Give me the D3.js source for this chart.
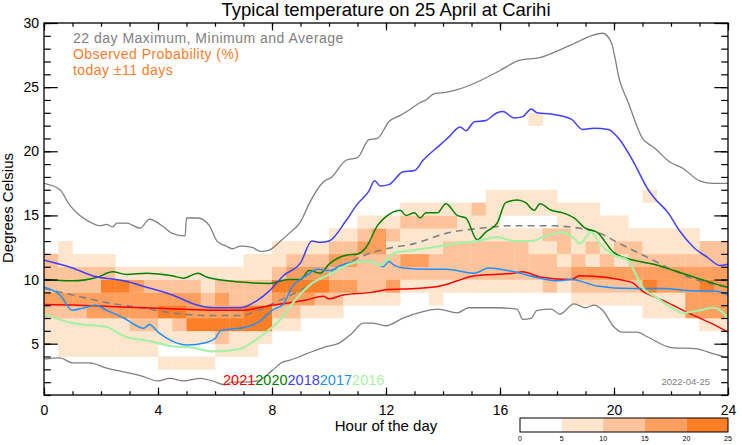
<!DOCTYPE html>
<html><head><meta charset="utf-8">
<script src="https://cdn.jsdelivr.net/npm/d3@7"></script>
<style>body{margin:0;background:#fff} svg{display:block;font-family:"Liberation Sans",Arial,Helvetica,sans-serif}</style>
</head><body><svg id="c" width="742" height="445"></svg>
<script>
// ---------------- data ----------------
const hourTicks = [0,4,8,12,16,20,24];
const tempTicks = [5,10,15,20,25,30];
const probBins = [0,5,10,15,20,25];
const years = ["2021","2020","2018","2017","2016"];
const yearColors = ["#ff0000","#008000","#4040ff","#1e90ff","#a8f0a8"];
// probability class (0:0-5%,1:5-10,2:10-15,3:15-20,4:20-25) per half-hour column, rows from 3°C upward
const heatBaseTemp = 3;
const heatCols = [
"001123222000000","011123221100000","011123221000000","011133221000000",
"011133421000000","011133410000000","011233310000000","011233210000000",
"101143210000000","101243210000000","101433210000000","101432110000000",
"012433210000000","011432210000000","011442211000000","001442211000000",
"000123421100000","000123432100000","000013432100000","000012432100000",
"000012323210000","000001323210000","000001222321000","000001222331000",
"000001322121000","000000123112100","000000123112100","000001122112100",
"000000122212100","000000122211100","000000122211200","000000122211110",
"000000122210110","000000122210110","000000122110110","000000222120110",
"000000121221100","000001232111100","000001231211100","000001232111000",
"000001231211000","000001232210000","000011432110010","000011332110000",
"000011332110000","000033332110000","000133432200000","000133332200000"];
const extraCells = [[17.0,22,1]]; // [hour start, temp bin start, class]

const maxLine = [[0,17.5],[0.56,17.0],[0.9,15.8],[1.26,15.0],[1.6,14.5],[1.96,14.2],[2.2,14.3],[2.4,14.1],[2.56,14.4],[2.9,14.4],[3.37,14.0],[3.7,14.7],[4.2,14.1],[4.5,13.6],[4.95,13.4],[5.0,14.8],[5.4,14.8],[5.8,14.2],[6.07,13.0],[6.4,12.6],[6.6,12.4],[6.9,12.6],[7.3,12.5],[7.6,12.2],[7.9,12.3],[8.3,13.0],[8.6,13.6],[9.0,14.5],[9.3,15.9],[9.8,17.6],[10.1,18.0],[10.6,19.3],[11.0,19.5],[11.4,20.9],[11.7,21.0],[12.1,22.3],[12.5,22.8],[12.8,23.2],[13.2,23.8],[13.4,24.0],[13.7,24.5],[14.1,24.6],[14.5,24.8],[15.3,25.5],[16.0,26.3],[16.7,27.1],[17.4,27.3],[18.1,27.9],[18.6,28.4],[19.2,29.0],[19.6,29.2],[19.9,28.5],[20.2,25.5],[20.5,23.8],[21.0,21.0],[21.4,20.3],[22.0,19.1],[22.4,18.7],[23.0,17.7],[23.5,17.5],[24,17.5]];
const minLine = [[0,3.8],[0.56,3.9],[1.0,3.5],[1.6,3.5],[2.2,3.1],[2.8,2.8],[3.4,2.5],[4.0,2.1],[4.4,2.3],[4.9,2.1],[5.5,2.3],[5.9,2.1],[6.35,1.8],[6.6,2.0],[7.0,2.0],[7.5,2.1],[8.0,2.9],[8.4,3.6],[8.6,3.7],[9.2,4.2],[9.8,4.7],[10.4,5.1],[10.8,5.8],[11.2,6.6],[11.5,6.6],[12.0,6.4],[12.6,7.0],[13.3,7.5],[13.8,7.7],[14.5,7.4],[14.9,7.8],[15.9,7.8],[16.6,7.7],[16.8,6.9],[17.1,7.0],[17.3,7.6],[17.8,7.7],[18.1,7.3],[18.6,8.1],[19.0,7.8],[19.3,8.0],[19.6,7.6],[20.0,6.3],[20.3,5.9],[20.8,5.9],[21.2,5.5],[22.0,4.7],[22.9,4.6],[23.5,4.2],[24,3.9]];
const avgLine = [[0,9.3],[1.0,8.8],[2.2,8.2],[3.4,7.8],[4.5,7.4],[5.7,7.2],[6.9,7.2],[7.5,7.6],[8.0,8.1],[9.2,9.4],[10.4,11.0],[11.5,12.1],[12.0,12.4],[13.0,12.8],[14.1,13.6],[15.3,14.0],[16.5,14.2],[17.6,14.2],[18.8,14.0],[19.5,13.6],[20.2,12.8],[21.2,11.7],[22.1,10.7],[23.0,9.9],[24,9.4]];
const line2021 = [[0,8.05],[1.2,8.0],[2.35,7.9],[3.5,7.8],[4.7,7.7],[6.0,7.6],[6.9,7.6],[8.0,8.0],[9.2,8.4],[9.8,8.7],[10.0,8.5],[10.5,8.8],[11.5,9.0],[12.0,9.2],[13.0,9.3],[13.9,9.5],[14.5,9.9],[15.1,10.3],[16.5,10.5],[16.8,10.6],[17.4,10.2],[18.5,10.0],[18.8,10.3],[20.6,9.8],[21.0,9.1],[21.7,8.4],[22.7,7.3],[23.4,6.6],[24,5.9]];
const line2020 = [[0,10.0],[1.0,9.9],[1.9,10.2],[2.4,10.6],[2.9,10.4],[3.6,10.5],[4.5,10.3],[4.9,10.1],[5.4,10.5],[5.7,10.2],[6.9,9.8],[7.9,9.7],[8.6,10.0],[9.0,10.0],[9.3,10.7],[9.7,10.5],[10.0,11.2],[10.6,11.9],[11.0,12.0],[11.3,12.5],[11.7,14.2],[12.0,14.9],[12.5,15.4],[12.7,15.0],[13.0,15.2],[13.2,14.8],[13.4,15.2],[13.8,15.2],[14.1,15.9],[14.5,15.0],[14.8,14.8],[15.2,13.1],[15.5,13.7],[15.9,14.4],[16.2,16.0],[16.6,16.2],[16.9,16.0],[17.2,15.4],[17.4,15.9],[17.8,15.4],[18.2,15.2],[18.6,14.8],[19.0,14.0],[19.4,13.7],[20.0,12.1],[20.7,11.5],[21.4,11.2],[22.1,10.7],[22.8,10.2],[23.5,9.7],[24,9.4]];
const line2018 = [[0,11.5],[1.0,10.9],[1.7,10.3],[2.8,9.9],[3.6,9.4],[4.5,8.8],[5.4,8.0],[5.9,7.8],[6.9,7.8],[7.5,8.4],[7.9,9.1],[8.4,10.3],[9.0,11.3],[9.4,13.0],[9.7,12.9],[10.0,13.0],[10.6,14.6],[11.0,15.9],[11.4,16.9],[11.6,17.7],[11.8,17.3],[12.1,17.4],[12.6,18.4],[13.0,18.5],[13.3,19.3],[13.9,20.5],[14.2,21.1],[14.6,21.9],[14.8,21.6],[15.1,22.3],[15.5,22.4],[15.9,23.0],[16.1,23.1],[16.5,22.6],[16.8,22.7],[17.1,23.3],[17.3,23.0],[17.8,22.9],[18.5,22.5],[18.9,21.7],[19.3,21.8],[19.8,21.7],[20.2,20.9],[20.7,19.1],[21.2,17.0],[21.4,16.4],[21.9,15.2],[22.3,13.8],[22.8,12.5],[23.3,11.7],[23.7,11.1],[24,11.2]];
const line2017 = [[0,9.4],[0.56,8.8],[1.0,7.6],[1.4,7.8],[1.8,8.0],[2.2,7.6],[2.8,7.0],[3.5,6.2],[3.7,6.5],[4.0,5.9],[4.5,5.2],[5.0,4.9],[5.7,5.1],[6.0,5.4],[6.2,6.0],[7.1,6.3],[7.6,6.8],[8.0,7.6],[8.4,8.1],[8.7,9.4],[9.2,10.3],[9.6,10.8],[10.0,10.7],[10.4,11.1],[11.1,11.4],[11.5,11.4],[11.9,11.0],[12.1,11.4],[12.3,11.1],[12.6,10.9],[13.5,10.8],[14.1,10.8],[15.1,10.5],[15.6,10.9],[16.5,10.6],[17.4,10.1],[18.0,9.9],[18.5,10.0],[19.4,9.5],[20.6,9.3],[21.7,9.3],[22.9,9.1],[23.5,9.1],[24,8.8]];
const line2016 = [[0,7.3],[1.0,6.6],[2.2,6.3],[2.8,5.6],[3.7,5.2],[4.5,4.8],[5.2,4.7],[5.9,4.4],[6.9,4.6],[7.3,5.1],[7.8,5.9],[8.3,6.9],[8.6,7.8],[9.1,9.1],[9.4,9.7],[9.8,10.2],[10.1,10.5],[10.6,11.1],[11.1,11.4],[11.5,11.4],[11.8,11.1],[12.3,12.1],[13.0,12.3],[13.9,12.6],[14.4,12.8],[15.2,13.0],[15.9,13.3],[16.5,13.0],[17.1,13.0],[17.6,13.4],[18.2,13.7],[18.6,13.2],[18.8,12.8],[19.2,13.7],[19.5,12.8],[20.0,11.9],[20.5,11.5],[20.7,10.7],[21.0,9.4],[21.5,8.6],[22.1,7.7],[22.4,7.4],[23.0,7.6],[23.5,7.8],[24,7.0]];
const yearLines = [line2021,line2020,line2018,line2017,line2016];

// ---------------- drawing ----------------
const svg = d3.select("#c");
const L=44,R=728,T=23,B=395;
const x = d3.scaleLinear([0,24],[L,R]);
const y = d3.scaleLinear([1,30],[B,T]);
const probColors = ["#ffffff","#fee6ce","#fdc49c","#fd9f5e","#fd7f27"];
const color = d3.scaleThreshold().domain([5,10,15,20]).range(probColors);

svg.append("defs").append("clipPath").attr("id","pc").append("rect")
  .attr("x",L).attr("y",T).attr("width",R-L).attr("height",B-T);

// heat cells
const cells = [];
heatCols.forEach((s,ci)=>{ for(let k=0;k<s.length;k++){ const c=+s[k]; if(c>0) cells.push({h:ci*0.5,t:heatBaseTemp+k,p:c*5+2.5}); }});
extraCells.forEach(e=>cells.push({h:e[0],t:e[1],p:e[2]*5+2.5}));
const hg = svg.append("g").attr("clip-path","url(#pc)");
hg.selectAll("rect").data(cells).join("rect")
  .attr("x",d=>x(d.h)).attr("y",d=>y(d.t+1))
  .attr("width",d=>x(d.h+0.5)-x(d.h)+0.3).attr("height",d=>y(d.t)-y(d.t+1)+0.3)
  .attr("fill",d=>color(d.p));

const line = d3.line().x(d=>x(d[0])).y(d=>y(d[1])).curve(d3.curveMonotoneX);
const lg = svg.append("g").attr("clip-path","url(#pc)").attr("fill","none");
lg.append("path").attr("d",line(maxLine)).attr("stroke","#808080").attr("stroke-width",1.3);
lg.append("path").attr("d",line(minLine)).attr("stroke","#808080").attr("stroke-width",1.3);
lg.append("path").attr("d",line(avgLine)).attr("stroke","#808080").attr("stroke-width",1.6).attr("stroke-dasharray","7,5");
yearLines.forEach((ln,i)=>{
  lg.append("path").attr("d",line(ln)).attr("stroke",yearColors[i]).attr("stroke-width",i===4?2.2:1.5).attr("stroke-linejoin","round");
});

// axes
function styleAxis(g){ g.select(".domain").remove(); g.selectAll("line").attr("stroke","#000").attr("stroke-width",1.2);
  g.attr("font-family",null).attr("font-size",14); g.selectAll("text").attr("fill","#000"); }
const intMinor = d3.range(0,25);
svg.append("g").attr("transform",`translate(0,${B})`).call(d3.axisBottom(x).tickValues(intMinor).tickSize(-3.7).tickFormat("")).call(styleAxis);
svg.append("g").attr("transform",`translate(0,${B})`).call(d3.axisBottom(x).tickValues(hourTicks).tickSize(-7.4).tickPadding(10).tickFormat(d3.format("d"))).call(styleAxis);
svg.append("g").attr("transform",`translate(0,${T})`).call(d3.axisTop(x).tickValues(intMinor).tickSize(-3.7).tickFormat("")).call(styleAxis);
svg.append("g").attr("transform",`translate(0,${T})`).call(d3.axisTop(x).tickValues(hourTicks).tickSize(-7.4).tickFormat("")).call(styleAxis);
const tMinor = d3.range(1,31);
svg.append("g").attr("transform",`translate(${L},0)`).call(d3.axisLeft(y).tickValues(tMinor).tickSize(-6.8).tickFormat("")).call(styleAxis);
svg.append("g").attr("transform",`translate(${L},0)`).call(d3.axisLeft(y).tickValues(tempTicks).tickSize(-13.7).tickPadding(5).tickFormat(d3.format("d"))).call(styleAxis);
svg.append("g").attr("transform",`translate(${R},0)`).call(d3.axisRight(y).tickValues(tMinor).tickSize(-6.8).tickFormat("")).call(styleAxis);
svg.append("g").attr("transform",`translate(${R},0)`).call(d3.axisRight(y).tickValues(tempTicks).tickSize(-13.7).tickFormat("")).call(styleAxis);
svg.append("rect").attr("x",L).attr("y",T).attr("width",R-L).attr("height",B-T).attr("fill","none").attr("stroke","#000").attr("stroke-width",1.3);

// texts
svg.append("text").attr("x",(L+R)/2).attr("y",16).attr("text-anchor","middle").attr("font-size",18.5).text("Typical temperature on 25 April at Carihi");
svg.append("text").attr("x",(L+R)/2).attr("y",431).attr("text-anchor","middle").attr("font-size",15).text("Hour of the day");
svg.append("text").attr("transform","translate(13,208) rotate(-90)").attr("text-anchor","middle").attr("font-size",15).text("Degrees Celsius");
svg.append("text").attr("x",73).attr("y",43).attr("font-size",14).attr("letter-spacing",0.5).attr("fill","#808080").text("22 day Maximum, Minimum and Average");
svg.append("text").attr("x",73).attr("y",59).attr("font-size",14).attr("letter-spacing",0.45).attr("fill","#fb7d2c").text("Observed Probability (%)");
svg.append("text").attr("x",73).attr("y",75).attr("font-size",14).attr("letter-spacing",0.45).attr("fill","#fb7d2c").text("today \u00b111 days");

// year legend
const yl = svg.append("text").attr("x",223).attr("y",385).attr("font-size",14.5);
years.forEach((yr,i)=>yl.append("tspan").attr("fill",yearColors[i]).text(yr));
svg.append("text").attr("x",710).attr("y",385).attr("text-anchor","end").attr("font-size",9.5).attr("fill","#808080").text("2022-04-25");

// colour bar
const cb = d3.scaleLinear([0,25],[520,728]);
const cbg = svg.append("g");
cbg.selectAll("rect").data(probBins.slice(0,-1)).join("rect")
  .attr("x",d=>cb(d)).attr("y",418).attr("width",d=>cb(d+5)-cb(d)).attr("height",14)
  .attr("fill",d=>color(d+2.5));
cbg.append("rect").attr("x",cb(0)).attr("y",418).attr("width",cb(25)-cb(0)).attr("height",14).attr("fill","none").attr("stroke","#000").attr("stroke-width",1);
cbg.selectAll("text").data(probBins).join("text").attr("x",d=>cb(d)).attr("y",441).attr("text-anchor","middle").attr("font-size",7).text(d=>d);
</script></body></html>
